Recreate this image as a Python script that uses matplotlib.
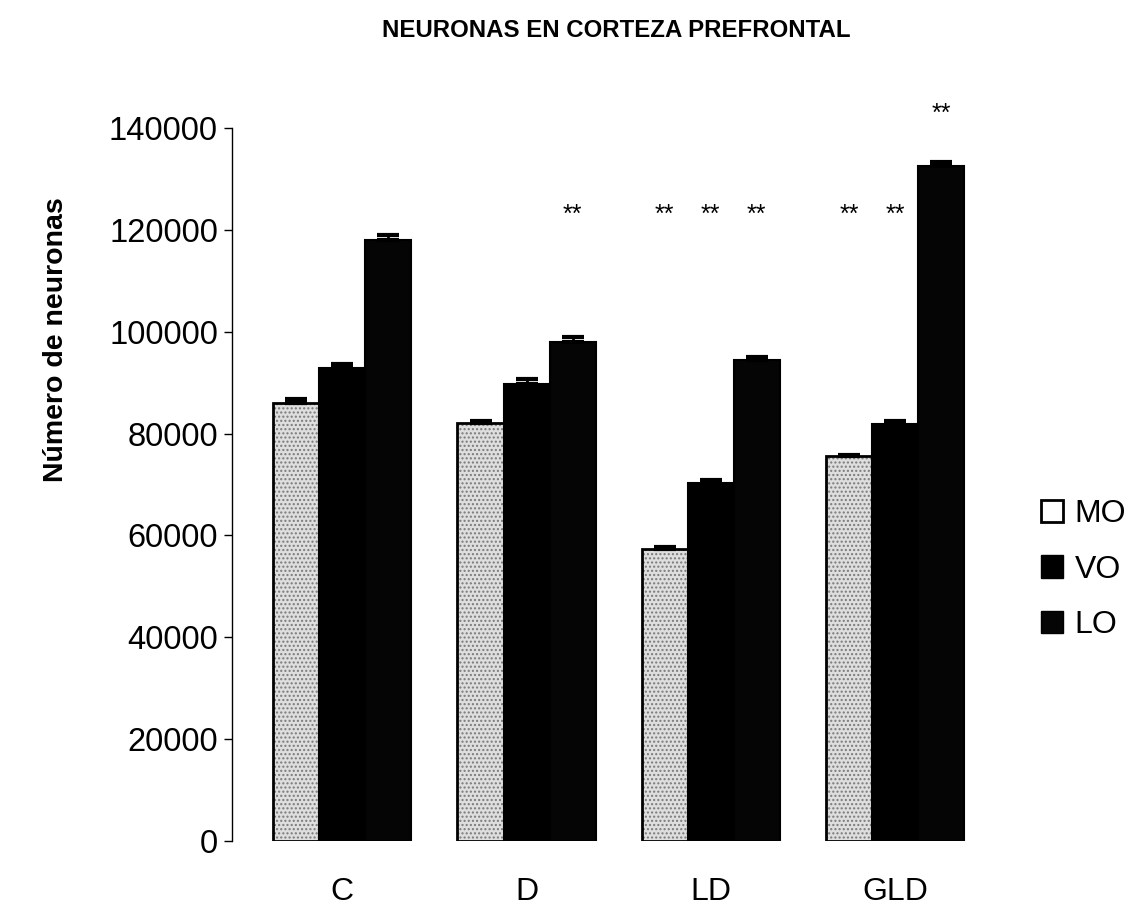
import numpy as np
import matplotlib
matplotlib.use("Agg")
import matplotlib.pyplot as plt
from matplotlib.patches import Patch

plt.rcParams["font.family"] = ["Liberation Sans", "DejaVu Sans"]

groups = ["C", "D", "LD", "GLD"]
series = ["MO", "VO", "LO"]
mo = [86000, 82000, 57300, 75500]
vo = [92800, 89800, 70300, 81800]
lo = [118000, 98000, 94400, 132500]
mo_err = [700, 400, 400, 300]
vo_err = [900, 900, 500, 700]
lo_err = [900, 900, 700, 800]
# significance marks (**) per group, per region
sig_mo = [False, False, True, True]
sig_vo = [False, False, True, True]
sig_lo = [False, True, True, True]

fig = plt.figure(figsize=(11.31, 9.07), dpi=100)
ax = fig.add_axes([0.205, 0.0728, 0.684, 0.7861])

x = np.arange(len(groups))
w = 0.25
offs = [-w, 0, w]

# MO: stippled grey fill, then a black outline on top
ax.bar(x + offs[0], mo, w, color="#dedede", hatch="....", edgecolor="#7a7a7a", lw=0)
ax.bar(x + offs[0], mo, w, fill=False, edgecolor="black", lw=2)
ax.bar(x + offs[1], vo, w, color="black", edgecolor="black", lw=1.5)
ax.bar(x + offs[2], lo, w, color="#050505", edgecolor="black", lw=1.5)

for vals, errs, o in [(mo, mo_err, offs[0]), (vo, vo_err, offs[1]), (lo, lo_err, offs[2])]:
    ax.errorbar(x + o, vals, yerr=[np.zeros(len(errs)), errs], fmt="none",
                ecolor="black", elinewidth=2, capsize=8, capthick=3)

for vals, errs, flags, o in [(mo, mo_err, sig_mo, offs[0]), (vo, vo_err, sig_vo, offs[1]),
                              (lo, lo_err, sig_lo, offs[2])]:
    for i, f in enumerate(flags):
        if f:
            y = max(123000, vals[i] + errs[i] + 9500)
            ax.text(x[i] + o, y, "**", ha="center", va="center", fontsize=18,
                    clip_on=False)

ax.set_xlim(-0.6, 3.6)
ax.set_ylim(0, 140000)
ax.set_yticks(range(0, 140001, 20000))
ax.set_xticks(x)
ax.set_xticklabels(groups)
ax.tick_params(axis="y", labelsize=23.5, length=6, width=1, direction="out", pad=4)
ax.tick_params(axis="x", labelsize=23, length=0, pad=26)
for s in ["top", "right", "bottom"]:
    ax.spines[s].set_visible(False)
ax.spines["left"].set_linewidth(1)

ax.set_ylabel("Número de neuronas", fontsize=20.5, fontweight="bold")
ax.yaxis.set_label_coords(-0.21, 0.703)
fig.text(0.545, 0.966, "NEURONAS EN CORTEZA PREFRONTAL", ha="center", va="center",
         fontsize=17.3, fontweight="bold")

handles = [Patch(facecolor="white", edgecolor="black", lw=2),
           Patch(facecolor="black", edgecolor="black"),
           Patch(facecolor="#050505", edgecolor="black")]
fig.legend(handles, series, loc="center left", bbox_to_anchor=(0.895, 0.372),
           frameon=False, fontsize=23, handlelength=0.7, handleheight=0.7,
           handletextpad=0.35, labelspacing=0.8)

fig.savefig("out.png", dpi=100)
